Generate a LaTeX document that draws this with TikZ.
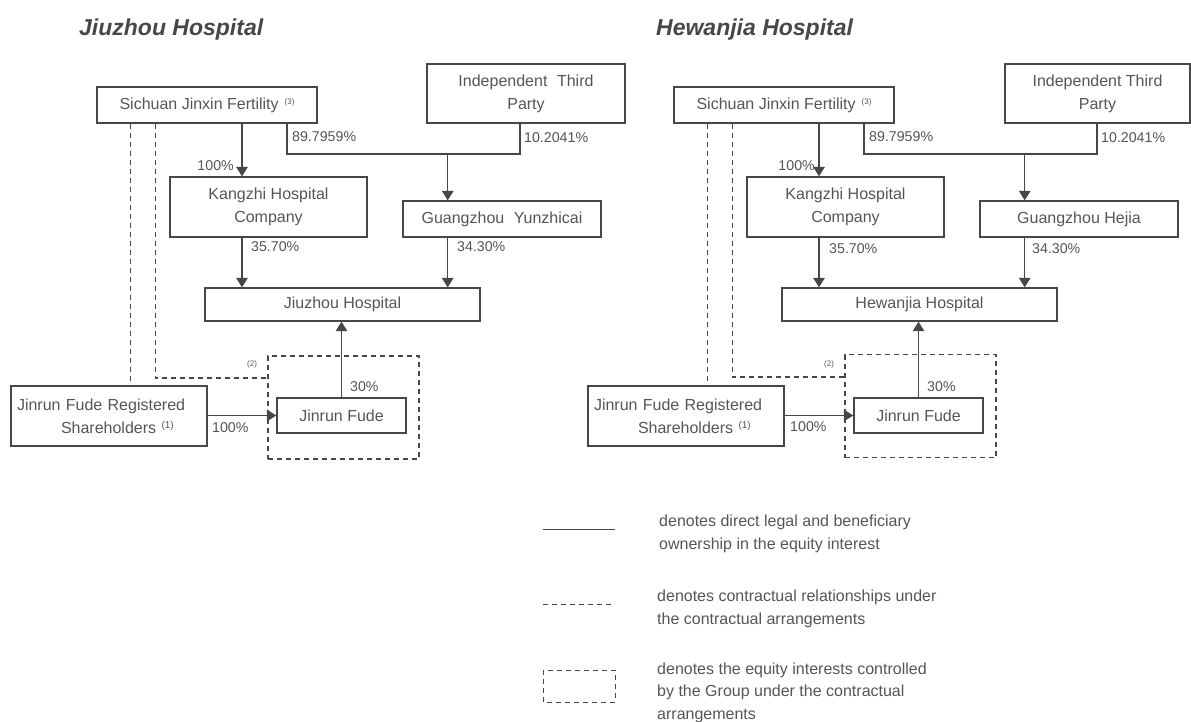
\documentclass[tikz,border=0pt]{standalone}
\usepackage{fontspec}
\setmainfont{Liberation Sans}
\usepackage{tikz}
\usetikzlibrary{arrows.meta, positioning}

\definecolor{ink}{HTML}{474747}
\definecolor{txt}{HTML}{555555}
\newcommand{\supref}[3]{\raisebox{#3}{\fontsize{#2}{#2}\selectfont(#1)}}

\begin{document}
\begin{tikzpicture}[
  x=1pt, y=-1pt,
  every node/.style={text=txt},
  box/.style={draw=ink, line width=1.3pt, inner sep=0pt, align=center,
              font=\fontsize{16}{23}\selectfont},
  grpbox/.style={draw=ink, line width=1.2pt, dash pattern=on 5pt off 4pt},
  pct/.style={inner sep=0pt, font=\fontsize{14.2}{14.2}\selectfont},
  note/.style={inner sep=0pt, font=\fontsize{8}{8}\selectfont},
  ttl/.style={inner sep=0pt, anchor=base west, text=ink,
              font=\fontsize{23}{23}\selectfont\bfseries\itshape},
  legtxt/.style={inner sep=0pt, anchor=north west, align=left,
                 font=\fontsize{16}{22.6}\selectfont},
  conn/.style={draw=ink, line width=1.3pt},
  arr/.style={conn, -{Triangle[length=9.5pt, width=11.5pt]}},
  dsh/.style={conn, line width=1.2pt, dash pattern=on 5pt off 4pt}
]
  \useasboundingbox (0,0) rectangle (1191,721);

  % Jiuzhou Hospital
  \node[ttl] (jttl) at (79,35) {Jiuzhou Hospital};
  \node[box, minimum width=220pt, minimum height=36pt] (jsich) at (207,105)
    {Sichuan Jinxin Fertility\hspace{6pt}\supref{3}{8}{5pt}};
  \node[box, minimum width=198pt, minimum height=59pt] (jind) at (526,93.5)
    {Independent\hspace{0.6em}Third\\Party};
  \node[box, minimum width=197pt, minimum height=60pt] (jkang) at (268.5,207)
    {Kangzhi Hospital\\Company};
  \node[box, minimum width=198pt, minimum height=36pt] (jguang) at (502,219)
    {Guangzhou\hspace{0.6em}Yunzhicai};
  \node[box, minimum width=275pt, minimum height=33pt] (jhosp) at (342.5,304.5)
    {Jiuzhou Hospital};
  \node[box, minimum width=129pt, minimum height=35pt] (jfude) at (341.5,415.5)
    {Jinrun Fude};
  \node[box, text width=184pt, inner xsep=6pt, minimum height=60pt, align=left] (jregd) at (109,416)
    {Jinrun Fude Registered\\\hspace*{44pt}Shareholders \supref{1}{10}{5pt}};
  \node[grpbox, minimum width=151pt, minimum height=103pt] (jgrp) at (343.5,407.5) {};
  \coordinate (jjn) at (447.7,154);

  \draw[arr] (jsich.south -| 242,0) -- (jkang.north -| 242,0);
  \draw[conn] (jsich.south -| 287,0) |- (jjn) -| (jind.south -| 520,0);
  \draw[arr] (jjn) -- (jguang.north -| jjn);
  \draw[arr] (jkang.south -| 242,0) -- (jhosp.north -| 242,0);
  \draw[arr] (jguang.south -| jjn) -- (jhosp.north -| jjn);
  \draw[arr] (jfude.north) -- (jhosp.south -| jfude.north);
  \draw[arr] (jregd.east |- jfude) -- (jfude.west);
  \draw[dsh] (jsich.south -| 130.5,0) -- (jregd.north -| 130.5,0);
  \draw[dsh] (jsich.south -| 155.5,0) |- (jgrp.west |- 0,378);

  \node[pct, anchor=east] (jp1) at (234,166) {100\%};
  \node[pct, anchor=west] (jp2) at (292,137) {89.7959\%};
  \node[pct, anchor=west] (jp3) at (524,138) {10.2041\%};
  \node[pct, anchor=west] (jp4) at (251,247) {35.70\%};
  \node[pct, anchor=west] (jp5) at (457,247) {34.30\%};
  \node[pct, anchor=west] (jp6) at (350,387) {30\%};
  \node[pct, anchor=west] (jp7) at (212,428) {100\%};
  \node[note, anchor=west] (jn2) at (247,364) {(2)};

  % Hewanjia Hospital
  \begin{scope}[xshift=577pt]
  \node[ttl] (httl) at (79,35) {Hewanjia Hospital};
  \node[box, minimum width=220pt, minimum height=36pt] (hsich) at (207,105)
    {Sichuan Jinxin Fertility\hspace{6pt}\supref{3}{8}{5pt}};
  \node[box, minimum width=185pt, minimum height=59pt] (hind) at (520.5,93.5)
    {Independent Third\\Party};
  \node[box, minimum width=197pt, minimum height=60pt] (hkang) at (268.5,207)
    {Kangzhi Hospital\\Company};
  \node[box, minimum width=198pt, minimum height=36pt] (hguang) at (502,219)
    {Guangzhou Hejia};
  \node[box, minimum width=275pt, minimum height=33pt] (hhosp) at (342.5,304.5)
    {Hewanjia Hospital};
  \node[box, minimum width=129pt, minimum height=35pt] (hfude) at (341.5,415.5)
    {Jinrun Fude};
  \node[box, text width=184pt, inner xsep=6pt, minimum height=60pt, align=left] (hregd) at (109,416)
    {Jinrun Fude Registered\\\hspace*{44pt}Shareholders \supref{1}{10}{5pt}};
  \node[grpbox, minimum width=151pt, minimum height=103pt] (hgrp) at (343.5,406) {};
  \coordinate (hjn) at (447.7,154);

  \draw[arr] (hsich.south -| 242,0) -- (hkang.north -| 242,0);
  \draw[conn] (hsich.south -| 287,0) |- (hjn) -| (hind.south -| 520,0);
  \draw[arr] (hjn) -- (hguang.north -| hjn);
  \draw[arr] (hkang.south -| 242,0) -- (hhosp.north -| 242,0);
  \draw[arr] (hguang.south -| hjn) -- (hhosp.north -| hjn);
  \draw[arr] (hfude.north) -- (hhosp.south -| hfude.north);
  \draw[arr] (hregd.east |- hfude) -- (hfude.west);
  \draw[dsh] (hsich.south -| 130.5,0) -- (hregd.north -| 130.5,0);
  \draw[dsh] (hsich.south -| 155.5,0) |- (hgrp.west |- 0,377);

  \node[pct, anchor=east] (hp1) at (238,166) {100\%};
  \node[pct, anchor=west] (hp2) at (292,137) {89.7959\%};
  \node[pct, anchor=west] (hp3) at (524,138) {10.2041\%};
  \node[pct, anchor=west] (hp4) at (252,249) {35.70\%};
  \node[pct, anchor=west] (hp5) at (455,249) {34.30\%};
  \node[pct, anchor=west] (hp6) at (350,387) {30\%};
  \node[pct, anchor=west] (hp7) at (213,427) {100\%};
  \node[note, anchor=west] (hn2) at (247,364) {(2)};
  \end{scope}

  % legend
  \draw[conn, line width=1pt] (543,529) -- (615,529);
  \node[legtxt] (leg1) at (659,515)
    {denotes direct legal and beneficiary\\ownership in the equity interest};
  \draw[dsh, line width=1pt] (543,604) -- (615,604);
  \node[legtxt] (leg2) at (657,590)
    {denotes contractual relationships under\\the contractual arrangements};
  \draw[dsh, line width=1pt] (543,670) rectangle (615,702);
  \node[legtxt] (leg3) at (657,662.5)
    {denotes the equity interests controlled\\by the Group under the contractual\\arrangements};
\end{tikzpicture}
\end{document}
